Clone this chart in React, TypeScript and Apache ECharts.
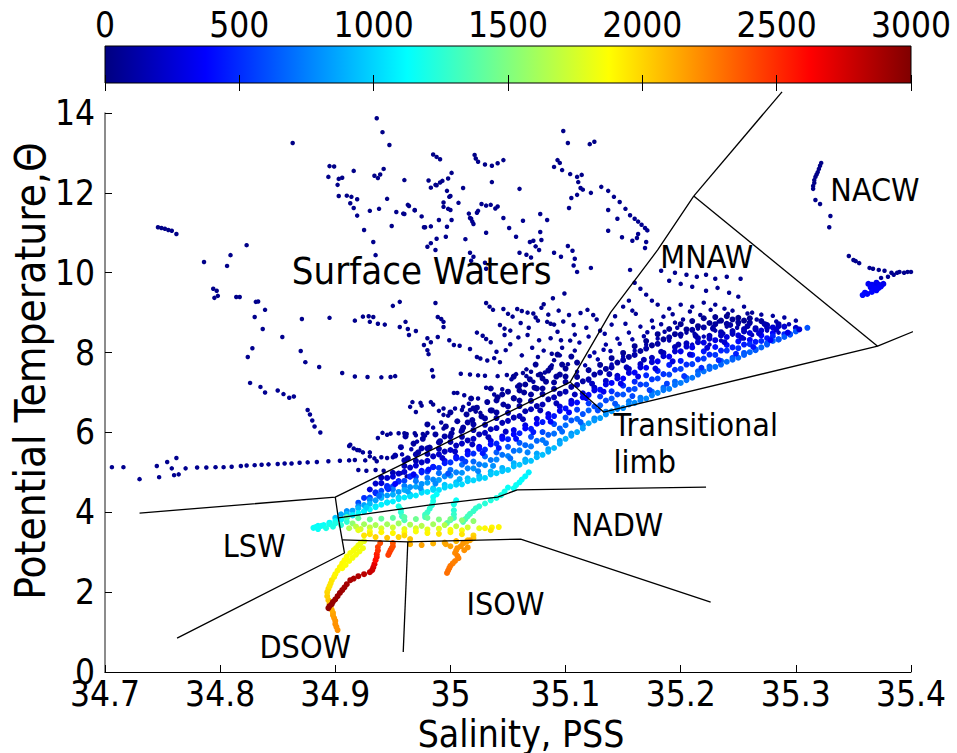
import React, { useEffect, useRef } from "react";
import * as echarts from "echarts";

// Jet colour ramp used for depth (m)
const JET = ["#000080", "#0000ff", "#0080ff", "#00ffff", "#80ff80", "#ffff00", "#ff8000", "#ff0000", "#800000"];
const DEPTH_MIN = 0;
const DEPTH_MAX = 3000;
const DEPTH_STEP = 500;
const SAL_MIN = 34.7;
const SAL_MAX = 35.4;
const SAL_STEP = 0.1;
const TEMP_MIN = 0;
const TEMP_MAX = 14;
const TEMP_STEP = 2;

// Each point: [salinity, potential temperature, depth]
const surfaceHigh = [
  [34.936,13.87,20],[34.941,13.52,25],[34.947,13.2,20],[34.863,13.25,15],[34.895,12.67,20],[34.899,12.66,25],[34.894,12.4,30],[34.903,12.35,20],[34.906,12.38,25],[34.902,12.2,30],[34.916,12.55,20],[34.934,12.43,25],[34.937,12.37,30],[34.939,12.46,20],[34.942,12.6,25],[34.903,11.92,20],[34.91,11.93,25],[34.914,11.9,30],[34.919,11.84,35],[34.913,11.74,30],[34.916,11.62,35],[34.919,11.43,40],[34.93,11.55,25],[34.938,11.6,30],[34.945,11.85,20],[34.925,11.07,30],[34.933,10.77,35],[34.935,10.44,40],[34.949,11.17,25],[34.96,12.32,20],[34.953,11.52,30],[34.959,11.48,35],[34.963,11.7,25],[34.969,11.56,30],[34.975,11.41,35],[34.977,11.14,30],[34.983,11.16,35],
  [34.985,12.96,20],[34.988,12.9,25],[34.991,12.84,30],[35.021,12.95,20],[35.022,12.86,25],[35.024,12.78,30],[35.03,12.71,25],[35.036,12.68,30],[35.041,12.74,25],[35.046,12.82,20],[35.036,12.27,30],[34.981,12.31,25],[34.983,12.13,30],[34.988,12.19,25],[34.991,12.26,30],[34.998,12.36,25],[34.999,11.9,30],[34.994,11.76,30],[34.998,11.6,35],[35.016,11.48,35],[35.018,11.35,40],[35.024,11.55,30],[34.99,11.32,35],[34.997,11.15,40],[35.039,11.61,30],[34.98,10.65,35],[34.988,10.85,35],[35.017,10.5,40],[35.02,10.4,40],[35.018,10.3,45],[35.06,10.5,40],[35.066,10.45,40],[35.07,10.38,45],[35.072,10.8,35],[35.079,10.82,35],[35.03,10.25,45],[35.031,10.1,45],
  [35.098,13.55,20],[35.102,13.25,25],[35.121,13.22,20],[35.125,13.28,20],[35.093,12.82,25],[35.09,12.65,30],[35.095,12.75,25],[35.097,12.57,30],[35.104,12.47,30],[35.11,12.4,30],[35.114,12.45,25],[35.111,12.27,30],[35.113,12.12,35],[35.115,12.08,35],[35.11,11.95,35],[35.105,11.87,35],[35.122,12.0,30],[35.131,12.15,30],[35.137,12.05,30],[35.142,11.9,35],[35.147,11.77,35],[35.152,11.6,35],[35.156,11.44,40],[35.16,11.35,40],[35.163,11.28,40],[35.166,11.2,40],[35.169,11.12,45],[35.171,11.06,45],[35.137,11.57,35],[35.145,11.35,40],[35.137,11.05,40],[35.149,10.89,40],[35.163,10.97,45],[35.162,10.87,45],[35.158,10.8,45],[35.17,10.77,45],[35.169,10.62,50],[35.103,11.62,35],
  [35.001,12.5,25],[34.987,12.2,30],[34.993,12.3,30],[34.997,12.05,30],[35.0,11.92,30],[35.011,12.12,30],[34.994,11.65,35],[35.0,11.57,35],[35.001,11.32,40],[35.007,11.75,35],[35.017,11.37,40],[35.019,11.28,40],[35.02,11.22,40],[35.023,11.5,35],[35.027,11.72,35],[35.031,11.68,35],[35.035,11.7,35],[35.041,11.66,35],[35.046,11.37,40],[35.051,11.12,40],[35.057,10.9,45],[35.063,11.3,40],[35.069,10.77,45],[35.06,12.1,30],[35.078,11.47,40],[35.084,11.32,40],[35.078,11.02,45],[35.09,10.5,45],[35.096,10.4,45],[35.102,10.67,45],[35.106,10.55,45],[35.108,10.35,50],[35.107,10.18,50],[35.11,10.02,50],[35.122,10.12,50],[35.156,10.07,50],[34.996,10.9,40],[35.013,10.84,40],[34.983,10.74,40],[34.987,10.57,45],[35.031,11.0,40],[35.074,10.66,45],[35.077,10.57,45],
  [34.964,11.67,30],[34.969,11.57,30],[34.978,11.14,35],[34.96,11.47,35],
  [34.746,11.14,20],[34.749,11.12,20],[34.752,11.1,20],[34.755,11.07,25],[34.758,11.05,25],[34.762,10.97,25],[34.823,10.69,25],[34.786,10.27,25],[34.809,10.44,30],[34.806,10.17,30]
];

const surfaceMid = [
  [34.794,9.6,30],[34.797,9.55,30],[34.798,9.42,30],[34.795,9.37,30],[34.814,9.39,30],[34.817,9.39,30],[34.831,9.27,35],[34.833,9.28,35],[34.83,8.89,35],[34.839,9.07,35],[34.837,8.59,40],[34.854,8.39,40],[34.871,8.84,35],[34.895,8.87,35],[34.87,8.04,40],[34.874,7.76,45],[34.886,7.64,45],[34.906,7.49,45],[34.917,7.4,45],[34.928,7.39,45],[34.94,7.38,45],[34.948,7.39,50],[34.952,7.41,50],[34.828,8.11,40],[34.824,7.89,45],[34.826,7.24,45],[34.835,7.14,45],[34.839,7.0,50],[34.855,6.96,50],[34.86,6.87,50],[34.864,6.9,50],
  [34.917,8.8,35],[34.924,8.9,35],[34.929,8.91,35],[34.933,8.89,35],[34.93,8.77,40],[34.937,8.72,40],[34.943,8.7,40],[34.95,9.17,35],[34.956,9.27,35],[34.956,8.64,40],[34.963,8.59,40],[34.964,8.44,45],[34.97,8.54,40],[34.961,8.77,40],[34.987,9.24,35],[34.989,8.89,40],[34.992,8.84,40],[34.994,8.77,40],[34.994,8.64,40],[34.98,8.36,45],[34.983,8.26,45],[34.977,8.19,45],[34.98,8.06,50],[34.981,7.96,50],[34.984,7.56,50],[34.985,7.4,55],[34.989,8.39,45],[34.999,8.31,45],[35.003,8.19,50],[35.008,8.17,50],[35.017,8.09,50],[35.023,7.89,55],[35.026,7.85,55],[35.032,7.8,55],[35.038,7.86,55],[35.043,7.76,60],[35.048,8.06,55],[35.031,9.24,35],[35.034,9.15,40],[35.037,9.07,40],[35.046,9.09,40],[35.05,8.97,45],[35.054,8.9,45],[35.058,9.09,40],[35.062,9.04,40],[35.067,9.0,45],[35.072,8.98,45],[35.074,8.88,45],[35.076,8.8,45],[35.043,8.69,50],[35.047,8.6,50],[35.052,8.55,50],[35.061,8.74,50],[35.084,8.77,45],[35.087,8.72,45],[35.09,8.7,45],[35.067,8.44,50],[35.077,8.31,55],[35.087,8.36,55],[35.096,8.31,55],[35.009,7.47,60],[35.017,7.45,60],[35.024,7.43,60],[35.03,7.42,60],[35.041,7.41,60],[35.049,7.44,60],[35.057,7.46,60],[35.063,7.49,60],[35.066,7.58,60],[35.07,7.52,60],[35.076,7.44,65],[35.09,7.81,60],[35.076,7.89,60],[35.107,8.69,50],[35.113,8.99,45],[35.119,9.07,45],[35.124,8.94,45],[35.103,8.94,45],[35.023,8.5,50],[35.028,8.42,50],[35.031,8.34,55],[35.035,8.26,55],
  [35.003,6.99,60],[35.006,6.99,60],[34.965,6.64,60],[34.97,6.51,60],[34.974,6.74,60],[34.983,6.76,60],[34.99,6.54,65],[34.994,6.44,65],[35.011,6.64,70],[35.017,6.56,70],[35.022,6.52,70],[35.026,6.49,75],[34.941,5.99,60],[34.948,5.97,60],[34.955,5.98,65],[34.962,5.96,65],[34.969,5.98,65],[34.976,5.96,70],[34.937,5.86,65],[34.913,5.69,65],[34.919,5.56,70],[34.924,5.5,70],[34.93,5.5,70],
  [34.85,7.05,50],[34.876,6.56,50],[34.878,6.45,55],[34.88,6.3,55],[34.882,6.15,55],[34.887,6.0,60],[34.912,5.66,65],[34.916,5.6,65],[34.921,5.55,65],[34.967,6.76,55],[34.975,6.67,55],[34.985,6.7,60],[34.994,6.6,60],[35.01,6.56,65],[34.994,6.1,70],[35.002,6.08,70],[35.009,6.02,70],[34.945,5.94,65],[34.96,5.98,65],[34.97,5.93,70],[34.98,5.99,70],
  [35.081,9.21,40],[35.089,9.36,40],[35.094,9.05,45],[35.099,9.48,40],[35.085,8.95,45],[35.079,9.12,45],[35.093,8.52,55],[35.098,8.78,50],[35.068,8.62,50],[35.059,8.38,55],[35.052,8.21,60],[35.047,8.44,55],[35.04,8.02,60],[35.062,7.93,60],[35.071,8.12,60],[35.081,8.05,65],[35.088,7.97,65],[35.097,8.12,60],[35.104,8.3,55],[35.108,8.45,55]
];

const surfaceLsw = [
  [34.706,5.13,40],[34.716,5.13,40],[34.73,4.83,45],[34.745,5.16,40],[34.747,4.88,45],[34.754,5.26,40],[34.758,5.1,40],[34.762,5.36,40],[34.76,4.93,45],[34.764,4.95,45],[34.77,5.1,45],[34.78,5.12,45],[34.788,5.12,45],[34.796,5.13,45],[34.803,5.13,45],[34.81,5.14,45],[34.818,5.16,45],[34.823,5.17,50],[34.83,5.18,50],[34.836,5.19,50],[34.842,5.2,50],[34.85,5.21,50],[34.856,5.22,50],[34.862,5.22,50],[34.869,5.24,50],[34.876,5.25,55],[34.884,5.26,55],[34.894,5.28,55],[34.904,5.29,55],[34.912,5.3,55],[34.917,5.31,55],
  [34.92,5.06,60],[34.927,5.04,60],[34.935,5.06,60],[34.942,5.04,60],[34.95,4.98,65],[34.957,4.98,65],[34.962,4.9,65],[34.926,5.3,60],[34.93,5.4,60],[34.934,5.35,60],[34.936,5.28,60],[34.94,5.38,60],[34.945,5.36,60],[34.95,5.38,60]
];

const nacwShallow = [
  [35.322,12.75,20],[35.321,12.68,20],[35.32,12.6,20],[35.319,12.52,25],[35.318,12.46,25],[35.317,12.4,25],[35.316,12.32,25],[35.316,12.25,25],[35.315,12.17,30],[35.315,12.1,30],[35.317,11.82,30],[35.321,11.72,30],[35.33,11.42,30],[35.329,11.14,35],[35.346,10.42,35],[35.35,10.32,35],[35.352,10.29,35],[35.355,10.24,40],[35.364,10.12,40],[35.367,10.1,40],[35.372,10.07,40],[35.377,10.05,40],[35.383,10.0,40],[35.388,10.0,40],[35.39,10.02,40],[35.394,10.0,40],[35.397,10.02,40],[35.4,10.02,40],[35.374,9.87,60],[35.38,9.9,60],[35.385,9.95,50]
];

const nacwDeeper = [
  [35.363,9.72,330],[35.366,9.7,340],[35.368,9.68,350],[35.37,9.75,320],[35.372,9.7,330],[35.374,9.66,350],[35.376,9.72,320],[35.365,9.63,360],[35.368,9.6,370],[35.372,9.62,360],[35.36,9.5,380],[35.358,9.44,400],[35.362,9.47,390],[35.366,9.52,380],[35.37,9.56,370]
];

const mnawCloud = [
  [35.183,10.05,40],[35.195,10.0,40],[35.205,9.95,45],[35.214,9.9,45],[35.222,9.95,45],[35.23,9.85,50],[35.24,9.9,45],[35.252,9.85,50],[35.19,9.8,50],[35.2,9.72,50],[35.21,9.65,55],[35.222,9.55,55],[35.232,9.62,55],[35.242,9.5,55],[35.25,9.4,60],[35.16,9.75,50],[35.165,9.6,55],[35.17,9.45,55],[35.175,9.3,60],[35.155,9.3,55],[35.15,9.15,60],[35.158,9.05,60],[35.18,9.2,60],[35.19,9.1,60],[35.2,9.2,60],[35.21,9.15,65],[35.22,9.25,60],[35.23,9.2,65],[35.238,9.1,65],[35.245,9.05,70],[35.255,9.15,65],[35.262,9.0,70],[35.27,8.95,75],[35.28,8.92,80],[35.29,8.88,85],[35.3,8.8,90],[35.265,8.6,120],[35.275,8.55,140],[35.285,8.5,160],[35.245,8.45,120],[35.255,8.35,150],[35.235,8.3,140],[35.225,8.2,160],[35.215,8.6,80],[35.205,8.5,90],[35.195,8.75,70],[35.185,8.9,65],[35.175,8.8,70],[35.165,8.65,80],[35.155,8.5,90],[35.145,8.35,95],[35.135,8.2,100],[35.125,8.0,110],[35.14,8.7,70],[35.13,8.55,80],[35.12,8.4,90],[35.112,8.25,95],[35.17,8.2,130],[35.18,8.35,120],[35.19,8.3,140],[35.2,8.4,130],[35.16,8.05,150],[35.15,7.9,160],[35.14,7.7,170],[35.13,7.5,180],[35.12,7.3,190],[35.21,8.2,180],[35.22,8.4,150],[35.23,8.55,130],[35.24,8.65,110],[35.25,8.7,100],[35.26,8.72,100],
  [35.118,8.62,70],[35.127,8.83,60],[35.134,8.47,85],[35.143,8.91,60],[35.152,8.72,75],[35.161,8.97,60],[35.168,8.41,110],[35.176,8.63,90],[35.186,8.52,110],[35.193,8.96,60],[35.202,8.83,75],[35.208,9.03,55],[35.217,8.94,65],[35.226,9.07,55],[35.233,8.78,85],[35.241,8.97,60],[35.249,8.62,110],[35.258,8.98,60],[35.266,8.83,90],[35.272,8.73,110],[35.283,8.78,120],[35.294,8.71,150],[35.121,7.91,120],[35.133,8.07,115],[35.147,8.22,110],[35.158,8.33,105],[35.171,8.51,95],[35.183,8.71,80],[35.197,8.62,95],[35.212,8.47,120],[35.228,8.64,110],[35.237,8.48,130],[35.262,8.44,150],[35.11,7.52,130],[35.117,7.68,125],[35.128,7.83,120],[35.139,8.04,110],[35.108,8.05,80],[35.102,7.71,90],[35.095,7.93,70],[35.088,7.68,80],[35.082,7.5,90],[35.072,7.27,95],[35.066,7.41,80],[35.058,7.15,90],[35.053,7.33,75],[35.045,7.08,80],[35.038,6.95,85],[35.031,7.12,70],[35.024,6.85,80],[35.016,6.72,85],[35.012,6.93,70],[35.004,6.6,85],[34.998,6.42,90],[34.992,6.25,95],[34.985,6.12,100],[34.978,5.92,110],[34.971,5.77,115],[34.966,5.58,125],[34.958,5.45,130]
];

const nearBoundary = [
  [34.96,5.3,150],[34.97,5.45,140],[34.98,5.6,130],[34.99,5.75,130],[35.0,5.9,120],[35.01,6.05,120],[35.02,6.2,110],[35.03,6.35,110],[35.04,6.5,100],[35.05,6.65,100],[35.06,6.8,90],[35.07,6.95,90],[35.08,7.1,85],[35.09,7.25,80],[35.1,7.4,80],[34.975,5.6,120],[34.995,5.9,110],[35.015,6.25,100],[35.035,6.55,95],[35.055,6.85,90],[35.075,7.1,85],[35.095,7.45,80],[35.02,6.6,80],[35.04,6.8,80],[35.06,7.05,75],[35.08,7.35,75],[35.1,7.6,70],[35.11,7.75,70],[35.045,6.95,75],[35.065,7.2,70],[35.085,7.55,70],[35.105,7.9,65],
  [34.952,5.42,110],[34.957,5.63,100],[34.963,5.35,120],[34.968,5.72,95],[34.972,5.5,110],[34.976,5.84,90],[34.982,5.62,105],[34.987,5.95,90],[34.991,5.78,100],[34.996,6.15,85],[35.001,5.98,95],[35.006,6.28,85],[35.011,6.12,95],[35.014,6.45,80],[35.019,6.31,90],[35.023,6.62,80],[35.027,6.4,90],[35.032,6.76,75],[35.036,6.55,85],[35.041,6.88,75],[35.046,6.7,85],[35.05,7.02,70],[35.055,6.86,80],[35.06,7.18,70],[35.064,7.0,80],[35.069,7.33,70],[35.073,7.12,80],[35.078,7.45,65],[35.083,7.27,75],[35.087,7.62,65],[35.092,7.4,75],[35.097,7.7,65],[34.961,5.9,80],[34.98,6.2,75],[35.0,6.5,70],[35.018,6.85,65],[35.035,7.1,65],[35.055,7.4,60],[35.074,7.7,60],[35.093,7.95,55]
];

// Station profiles through the main thermocline band, deepest first
const profileA = [
  [34.881,3.61,1150],[34.89,3.68,1140],[34.9,3.78,1130],[34.91,3.86,1120],[34.92,3.98,1110],[34.93,4.07,1100],[34.94,4.19,1090],[34.95,4.27,1080],[34.96,4.37,1070],[34.97,4.42,1060],[34.98,4.51,1050],[34.99,4.56,1040],[35.0,4.65,1030],[35.01,4.7,1020],[35.02,4.8,1010],[35.03,4.86,1000],[35.04,4.98,990],[35.05,5.06,980],[35.06,5.19,960],[35.07,5.29,950],[35.08,5.44,940],[35.09,5.61,920],[35.1,5.84,900],[35.11,6.01,880],[35.12,6.23,860],[35.13,6.36,840],[35.14,6.53,820],[35.15,6.61,800],[35.16,6.74,790],[35.17,6.85,780],[35.18,6.99,760],[35.19,7.09,750],[35.2,7.24,740],[35.21,7.37,720],[35.22,7.53,710],[35.23,7.64,700],[35.24,7.77,690],[35.25,7.87,680],[35.26,8.01,670],[35.27,8.13,660],[35.28,8.29,650],[35.29,8.39,640],[35.3,8.53,630],[35.31,8.62,620]
];
const profileAB = [
  [34.885,3.66,1120],[34.895,3.74,1110],[34.905,3.83,1100],[34.915,3.92,1090],[34.925,4.03,1080],[34.935,4.13,1070],[34.945,4.24,1060],[34.955,4.33,1040],[34.965,4.4,1030],[34.975,4.49,1020],[34.985,4.56,1010],[34.995,4.62,1000],[35.005,4.69,990],[35.015,4.78,980],[35.025,4.84,970],[35.035,4.95,960],[35.045,5.03,950],[35.055,5.15,930],[35.065,5.26,920],[35.075,5.38,910],[35.085,5.52,890],[35.095,5.72,870],[35.105,5.92,850],[35.115,6.1,840],[35.125,6.3,820],[35.135,6.45,800],[35.145,6.59,780],[35.155,6.7,770],[35.165,6.8,750],[35.175,6.93,740],[35.185,7.06,720],[35.195,7.19,710],[35.205,7.31,700],[35.215,7.45,690],[35.225,7.59,680],[35.235,7.7,670],[35.245,7.82,660],[35.255,7.94,650],[35.265,8.06,640],[35.275,8.2,630],[35.285,8.33,620],[35.295,8.46,610]
];
const profileB = [
  [34.895,3.73,1080],[34.905,3.81,1060],[34.915,3.93,1050],[34.925,4.02,1040],[34.935,4.15,1030],[34.945,4.25,1020],[34.955,4.37,1000],[34.965,4.44,990],[34.975,4.54,980],[34.985,4.6,970],[34.995,4.69,960],[35.005,4.75,950],[35.015,4.85,940],[35.025,4.91,930],[35.035,5.02,920],[35.045,5.11,900],[35.055,5.23,890],[35.065,5.32,870],[35.075,5.47,860],[35.085,5.58,850],[35.095,5.79,830],[35.105,5.97,810],[35.115,6.18,800],[35.125,6.35,780],[35.135,6.52,760],[35.145,6.65,750],[35.155,6.78,730],[35.165,6.87,720],[35.175,7.02,700],[35.185,7.12,690],[35.195,7.27,680],[35.205,7.37,660],[35.215,7.53,650],[35.225,7.65,640],[35.235,7.79,630],[35.245,7.87,620],[35.255,7.99,610],[35.265,8.08,600],[35.275,8.23,590],[35.285,8.33,580],[35.295,8.45,570]
];
const profileC = [
  [34.9,3.86,950],[34.91,3.96,940],[34.92,4.1,930],[34.93,4.21,920],[34.94,4.36,900],[34.95,4.44,890],[34.96,4.56,880],[34.97,4.64,860],[34.98,4.74,850],[34.99,4.81,840],[35.0,4.92,820],[35.01,4.99,810],[35.02,5.1,800],[35.03,5.18,790],[35.04,5.32,770],[35.05,5.41,760],[35.06,5.55,750],[35.07,5.65,730],[35.08,5.81,720],[35.09,5.97,700],[35.1,6.18,690],[35.11,6.34,670],[35.12,6.55,660],[35.13,6.68,640],[35.14,6.85,630],[35.15,6.95,620],[35.16,7.09,600],[35.17,7.2,590],[35.18,7.35,580],[35.19,7.45,570],[35.2,7.59,560],[35.21,7.71,550],[35.22,7.85,540],[35.23,7.94,530],[35.24,8.05,520],[35.25,8.11,510],[35.26,8.21,500],[35.27,8.29,490],[35.28,8.41,480],[35.29,8.46,470]
];
const profileCD = [
  [34.905,3.95,880],[34.915,4.04,870],[34.925,4.18,860],[34.935,4.3,850],[34.945,4.42,840],[34.955,4.51,820],[34.965,4.63,810],[34.975,4.71,800],[34.985,4.82,780],[34.995,4.9,770],[35.005,5.0,760],[35.015,5.1,750],[35.025,5.2,730],[35.035,5.31,720],[35.045,5.44,710],[35.055,5.54,690],[35.065,5.68,680],[35.075,5.79,670],[35.085,5.94,650],[35.095,6.1,640],[35.105,6.3,620],[35.115,6.46,610],[35.125,6.65,600],[35.135,6.8,580],[35.145,6.95,570],[35.155,7.07,560],[35.165,7.2,540],[35.175,7.33,530],[35.185,7.46,520],[35.195,7.57,510],[35.205,7.7,500],[35.215,7.83,490],[35.225,7.95,480],[35.235,8.05,470],[35.245,8.13,460],[35.255,8.2,450],[35.265,8.27,440],[35.275,8.36,430]
];
const profileD = [
  [34.91,4.03,800],[34.92,4.15,790],[34.93,4.31,780],[34.94,4.43,770],[34.95,4.57,750],[34.96,4.66,740],[34.97,4.78,730],[34.98,4.86,720],[34.99,4.98,700],[35.0,5.06,690],[35.01,5.19,680],[35.02,5.27,670],[35.03,5.4,650],[35.04,5.5,640],[35.05,5.64,630],[35.06,5.74,620],[35.07,5.89,600],[35.08,6.01,590],[35.09,6.21,580],[35.1,6.37,560],[35.11,6.57,550],[35.12,6.73,540],[35.13,6.9,530],[35.14,7.03,510],[35.15,7.17,500],[35.16,7.27,490],[35.17,7.43,480],[35.18,7.54,470],[35.19,7.69,460],[35.2,7.79,450],[35.21,7.94,440],[35.22,8.03,430],[35.23,8.14,420],[35.24,8.19,410],[35.25,8.28,400],[35.26,8.32,390],[35.27,8.43,380],[35.28,8.49,370]
];
const profileE = [
  [34.92,4.24,600],[34.93,4.37,590],[34.94,4.54,580],[34.95,4.65,570],[34.96,4.79,560],[34.97,4.89,550],[34.98,5.02,540],[34.99,5.11,530],[35.0,5.25,520],[35.01,5.34,510],[35.02,5.47,500],[35.03,5.57,490],[35.04,5.72,480],[35.05,5.83,470],[35.06,5.98,460],[35.07,6.09,450],[35.08,6.26,440],[35.09,6.41,430],[35.1,6.6,420],[35.11,6.75,410],[35.12,6.94,400],[35.13,7.07,390],[35.14,7.24,380],[35.15,7.35,370],[35.16,7.5,360],[35.17,7.62,350],[35.18,7.78,340],[35.19,7.9,330],[35.2,8.03,320],[35.21,8.13,310],[35.22,8.25,300],[35.23,8.31,290],[35.24,8.39,280],[35.25,8.43,270],[35.26,8.49,260],[35.27,8.55,250],[35.28,8.63,240],[35.29,8.65,230],[35.3,8.62,220]
];
const profileEF = [
  [34.925,4.36,510],[34.935,4.5,500],[34.945,4.66,490],[34.955,4.77,480],[34.965,4.9,470],[34.975,5.0,460],[34.985,5.13,450],[34.995,5.23,440],[35.005,5.35,430],[35.015,5.45,420],[35.025,5.59,410],[35.035,5.7,400],[35.045,5.84,390],[35.055,5.95,380],[35.065,6.1,370],[35.075,6.22,360],[35.085,6.38,350],[35.095,6.54,340],[35.105,6.72,330],[35.115,6.88,320],[35.125,7.05,300],[35.135,7.2,290],[35.145,7.35,280],[35.155,7.49,270],[35.165,7.63,260],[35.175,7.76,250],[35.185,7.91,240],[35.195,8.03,230],[35.205,8.15,220],[35.215,8.26,210],[35.225,8.35,200],[35.235,8.43,190],[35.245,8.48,185],[35.255,8.53,180],[35.265,8.58,175],[35.275,8.62,170],[35.285,8.66,165]
];
const profileF = [
  [34.935,4.48,420],[34.945,4.62,410],[34.955,4.78,400],[34.965,4.89,390],[34.975,5.04,380],[34.985,5.14,370],[34.995,5.29,360],[35.005,5.39,350],[35.015,5.53,340],[35.025,5.64,330],[35.035,5.79,320],[35.045,5.9,310],[35.055,6.06,300],[35.065,6.18,290],[35.075,6.34,280],[35.085,6.46,270],[35.095,6.65,260],[35.105,6.79,250],[35.115,6.98,240],[35.125,7.12,230],[35.135,7.29,220],[35.145,7.42,210],[35.155,7.59,200],[35.165,7.71,190],[35.175,7.87,180],[35.185,7.99,175],[35.195,8.14,170],[35.205,8.23,165],[35.215,8.36,160],[35.225,8.42,155],[35.235,8.51,150],[35.245,8.54,145],[35.255,8.59,140],[35.265,8.61,135],[35.275,8.69,130],[35.285,8.71,125]
];
const profileG = [
  [34.93,4.57,260],[34.94,4.73,255],[34.95,4.89,250],[34.96,5.01,240],[34.97,5.17,235],[34.98,5.29,230],[34.99,5.45,220],[35.0,5.56,215],[35.01,5.72,210],[35.02,5.84,200],[35.03,5.99,195],[35.04,6.11,190],[35.05,6.29,180],[35.06,6.41,175],[35.07,6.58,170],[35.08,6.7,160],[35.09,6.88,155],[35.1,7.02,150],[35.11,7.19,145],[35.12,7.33,140],[35.13,7.5,135],[35.14,7.63,130],[35.15,7.81,125],[35.16,7.94,120],[35.17,8.1,115],[35.18,8.22,110],[35.19,8.38,105],[35.2,8.45,100],[35.21,8.57,100],[35.22,8.63,95],[35.23,8.71,90],[35.24,8.72,90],[35.25,8.76,85],[35.26,8.75,80],[35.27,8.79,80]
];
const profileGH = [
  [34.935,4.72,220],[34.945,4.86,210],[34.955,4.97,205],[34.965,5.12,200],[34.975,5.25,195],[34.985,5.4,190],[34.995,5.52,180],[35.005,5.67,175],[35.015,5.8,170],[35.025,5.95,160],[35.035,6.08,155],[35.045,6.24,150],[35.055,6.37,140],[35.065,6.53,135],[35.075,6.66,130],[35.085,6.83,120],[35.095,6.97,115],[35.105,7.14,110],[35.115,7.28,105],[35.125,7.45,100],[35.135,7.59,95],[35.145,7.75,90],[35.155,7.89,85],[35.165,8.04,80],[35.175,8.18,75],[35.185,8.33,70],[35.195,8.46,70],[35.205,8.58,65],[35.215,8.66,60],[35.225,8.74,60],[35.235,8.8,55],[35.245,8.83,55],[35.255,8.8,50]
];
const profileH = [
  [34.94,4.87,160],[34.95,4.99,150],[34.96,5.16,150],[34.97,5.29,140],[34.98,5.46,140],[34.99,5.59,130],[35.0,5.76,130],[35.01,5.89,120],[35.02,6.06,120],[35.03,6.19,110],[35.04,6.36,110],[35.05,6.49,100],[35.06,6.66,100],[35.07,6.79,90],[35.08,6.96,90],[35.09,7.09,80],[35.1,7.26,80],[35.11,7.39,75],[35.12,7.56,75],[35.13,7.69,70],[35.14,7.86,70],[35.15,7.99,65],[35.16,8.16,65],[35.17,8.29,60],[35.18,8.46,60],[35.19,8.59,55],[35.2,8.71,55],[35.21,8.79,50],[35.22,8.86,50],[35.23,8.89,50],[35.24,8.91,45],[35.25,8.87,45],[35.26,8.86,40]
];

// Scattered casts filling the band between the profiles above
const bandScatter = [
  [34.927,4.12,1000],[34.938,4.41,700],[34.946,4.58,520],[34.952,4.71,380],[34.963,4.52,850],[34.968,4.95,330],[34.974,4.61,800],[34.981,5.07,420],[34.987,4.72,780],[34.993,5.36,230],[34.998,4.97,610],[35.004,5.52,200],[35.008,4.83,900],[35.013,5.27,560],[35.019,5.7,190],[35.024,5.03,760],[35.028,5.48,430],[35.033,5.88,170],[35.037,5.16,800],[35.042,5.61,420],[35.048,6.02,210],[35.052,5.35,700],[35.057,5.84,400],[35.063,6.33,160],[35.067,5.5,760],[35.072,6.01,440],[35.078,6.55,150],[35.083,5.73,720],[35.087,6.27,380],[35.092,6.73,160],[35.097,6.02,680],[35.103,6.5,380],[35.108,6.95,170],[35.113,6.26,650],[35.118,6.86,330],[35.123,7.22,190],[35.128,6.55,600],[35.133,7.02,330],[35.138,7.46,150],[35.143,6.72,620],[35.148,7.22,320],[35.153,7.63,160],[35.158,6.91,580],[35.163,7.4,300],[35.168,7.82,150],[35.173,7.06,560],[35.178,7.6,290],[35.183,8.02,140],[35.188,7.22,560],[35.193,7.78,280],[35.198,8.2,130],[35.203,7.41,520],[35.208,7.95,260],[35.213,8.42,120],[35.218,7.62,500],[35.223,8.12,250],[35.228,8.6,110],[35.233,7.81,480],[35.238,8.26,240],[35.243,8.69,110],[35.248,7.97,460],[35.253,8.37,240],[35.258,8.66,120],[35.263,8.14,420],[35.268,8.48,230],[35.273,8.71,140],[35.278,8.31,380],[35.283,8.58,220],[35.293,8.5,300],[35.303,8.58,250]
];

const intermediateDips = [
  [35.05,4.62,1150],[35.047,4.52,1180],[35.044,4.43,1200],[35.04,4.36,1210],[35.035,4.3,1220],[35.03,4.22,1240],[35.025,4.15,1250],[35.022,4.1,1270],[35.02,4.03,1280],[35.017,3.96,1300],[35.015,3.9,1320],[35.013,3.83,1340],[35.011,3.76,1360],
  [34.988,4.45,1130],[34.985,4.38,1150],[34.985,4.28,1190],[34.984,4.18,1220],[34.982,4.09,1250],[34.98,4.0,1280],[34.978,3.94,1300],[34.978,3.88,1320],
  [34.955,4.15,1200],[34.957,4.07,1230],[34.957,4.0,1250],[34.958,3.9,1300],[34.96,3.8,1350],
  [35.005,4.3,1150],[35.003,4.2,1200],[35.003,4.05,1240],[35.003,3.95,1280],[35.003,3.86,1300],[35.0,3.8,1350],[34.997,3.73,1400],
  [35.068,5.0,1080],[35.065,4.9,1100],[35.062,4.82,1120],[35.06,4.75,1130],[35.057,4.68,1150],[35.055,4.6,1160],
  [34.885,3.58,1150],[34.883,3.63,1150],[34.888,3.66,1150],[34.892,3.6,1200],[34.895,3.7,1180],[34.898,3.64,1200],[34.9,3.72,1200],[34.905,3.68,1250],[34.91,3.76,1250]
];

const nadwDeep = [
  [34.91,3.88,1350],[34.92,3.85,1400],[34.93,3.82,1450],[34.94,3.84,1420],[34.95,3.86,1400],[34.96,3.88,1380],[34.97,3.83,1450],[34.98,3.86,1420],[34.99,3.82,1500],[35.0,3.83,1480],[35.01,3.8,1520],[35.02,3.78,1550],
  [34.915,3.72,1550],[34.925,3.7,1600],[34.935,3.68,1620],[34.945,3.7,1600],[34.955,3.72,1580],[34.965,3.69,1620],[34.975,3.66,1650],[34.985,3.7,1600],[34.995,3.68,1650],[35.005,3.65,1700],[35.015,3.62,1750],[35.025,3.6,1800],
  [34.912,3.6,1650],[34.918,3.64,1680],[34.922,3.58,1720],[34.93,3.62,1700],[34.94,3.6,1750],[34.95,3.62,1720],[34.96,3.58,1780],[34.97,3.6,1760],[34.98,3.57,1800],[34.99,3.59,1780],[35.0,3.56,1850],[35.01,3.55,1850],
  [34.92,3.55,1800],[34.93,3.52,1850],[34.94,3.5,1900],[34.95,3.48,1900],[34.96,3.5,1880],[34.97,3.52,1850],[34.98,3.48,1900],[34.99,3.46,1950],[35.0,3.5,1900],[35.01,3.45,1950],[35.02,3.42,2000],[35.03,3.6,1900],[35.036,3.62,1900],[35.042,3.63,1900],[35.035,3.55,1950],
  [34.925,3.42,1950],[34.935,3.38,2000],[34.945,3.36,2050],[34.955,3.38,2000],[34.965,3.33,2050],[34.93,3.45,1950],[34.96,3.42,1980],
  [34.965,3.2,2100],[34.975,3.18,2150],[34.985,3.22,2100],[34.995,3.24,2100],[35.005,3.28,2080],[35.015,3.3,2050],[35.02,3.35,2050]
];

const isowProfile = [
  [35.017,3.3,2150],[35.014,3.26,2160],[35.011,3.22,2180],[35.009,3.15,2190],[35.006,3.1,2200],[35.005,3.04,2210],[35.004,2.98,2220],[35.006,2.91,2240],[35.007,2.85,2250],[35.004,2.78,2250],[35.002,2.72,2250],[35.0,2.66,2270],[34.999,2.6,2280],[34.998,2.54,2290],[34.997,2.48,2300],[35.012,3.05,2200],[35.015,3.12,2190],[35.0,3.15,2150],[34.996,3.2,2140]
];

const dsowShallow = [
  [34.902,1.05,2200],[34.901,1.13,2200],[34.9,1.2,2200],[34.9,1.28,2190],[34.899,1.35,2180],[34.898,1.42,2160],[34.898,1.48,2150],[34.897,1.55,2120],[34.896,1.62,2100],[34.895,1.7,2080],[34.894,1.8,2050],[34.893,1.9,2020],[34.893,2.0,2000],[34.894,2.08,1980],[34.895,2.15,1950],[34.896,2.22,1950],[34.897,2.3,1950],[34.899,2.38,1920],[34.9,2.45,1900],[34.902,2.54,1900],[34.904,2.63,1900],[34.906,2.72,1890],[34.908,2.8,1880],[34.91,2.89,1870],[34.913,2.98,1850],[34.916,3.05,1850],[34.918,3.1,1850],[34.92,3.17,1840],[34.922,3.23,1820],[34.925,3.28,1800],
  [34.906,2.6,1880],[34.909,2.68,1870],[34.912,2.78,1860],[34.915,2.86,1850],[34.918,2.94,1850],[34.921,3.02,1840],[34.924,3.1,1830]
];

const dsowDeep = [
  [34.894,1.6,2950],[34.895,1.65,2950],[34.897,1.7,2940],[34.898,1.76,2940],[34.9,1.82,2930],[34.902,1.9,2925],[34.904,1.98,2920],[34.906,2.05,2910],[34.908,2.12,2900],[34.91,2.2,2890],[34.913,2.3,2880],[34.916,2.34,2870],[34.92,2.4,2860],[34.925,2.45,2830],[34.93,2.5,2800],[34.932,2.55,2780],[34.933,2.62,2750],[34.934,2.7,2700],[34.935,2.8,2600],[34.936,2.88,2580],[34.936,2.95,2550],[34.937,3.04,2500],[34.937,3.13,2450],[34.939,3.23,2400],
  [34.946,2.93,2450],[34.947,2.99,2450],[34.948,3.05,2450],[34.949,3.1,2420],[34.95,3.15,2400],[34.95,3.23,2380]
];

// Water-mass boundaries, [salinity, temperature]
const boundaryNacwWest = [[35.288,14.53],[35.2113,11.92]];
const boundaryMnawWest = [[35.2113,11.92],[35.18,10.57],[35.139,9.0],[35.104,7.26]];
const boundarySurfaceLsw = [[35.104,7.26],[34.9,4.38],[34.73,3.98]];
const boundaryTransitional = [[35.104,7.26],[35.133,6.51],[35.371,8.16],[35.441,8.99]];
const boundaryMnawNacw = [[35.2113,11.92],[35.371,8.16]];
const boundaryLswEast = [[34.9,4.38],[34.9026,3.86],[34.908,2.98],[34.7626,0.85]];
const boundaryNadwTop = [[34.9026,3.86],[34.981,4.18],[35.041,4.38],[35.058,4.56],[35.222,4.63]];
const boundaryNadwBottom = [[34.906,3.31],[34.963,3.26],[35.061,3.33],[35.226,1.75]];
const boundaryIsowDsow = [[34.963,3.26],[34.959,0.5]];

// Water-mass names, anchored in [salinity, temperature]
const regionLabels = [
  { name: "Surface Waters", at: [34.975, 10.04], size: 38, align: "center" },
  { name: "MNAW", at: [35.2226, 10.39], size: 32, align: "center" },
  { name: "NACW", at: [35.3687, 12.07], size: 32, align: "center" },
  { name: "Transitional\nlimb", at: [35.1417, 5.72], size: 32, align: "left" },
  { name: "NADW", at: [35.145, 3.68], size: 32, align: "center" },
  { name: "LSW", at: [34.8296, 3.16], size: 32, align: "center" },
  { name: "ISOW", at: [35.0478, 1.7], size: 32, align: "center" },
  { name: "DSOW", at: [34.8739, 0.63], size: 32, align: "center" },
];

const FONT = '"DejaVu Sans Condensed", "DejaVu Sans", sans-serif';

export default function App() {
  const ref = useRef<HTMLDivElement>(null);

  useEffect(() => {
    if (!ref.current) return;
    const chart = echarts.init(ref.current, undefined, { renderer: "svg" });

    const gradient = new echarts.graphic.LinearGradient(
      0, 0, 1, 0,
      JET.map((c, i) => ({ offset: i / (JET.length - 1), color: c }))
    );

    const surfacePoints = [...surfaceHigh, ...surfaceMid, ...surfaceLsw, ...nacwShallow, ...mnawCloud];
    const bandPoints = [
      ...nearBoundary, ...nacwDeeper,
      ...profileH, ...profileGH, ...profileG, ...profileF, ...profileEF, ...profileE,
      ...profileD, ...profileCD, ...profileC, ...profileB, ...profileAB, ...profileA,
      ...bandScatter, ...intermediateDips, ...nadwDeep,
    ];
    const deepPoints = [...isowProfile, ...dsowShallow, ...dsowDeep];

    const boundaries = [
      boundaryNacwWest, boundaryMnawWest, boundarySurfaceLsw, boundaryTransitional,
      boundaryMnawNacw, boundaryLswEast, boundaryNadwTop, boundaryNadwBottom, boundaryIsowDsow,
    ];

    const scatterBase = {
      type: "scatter",
      xAxisIndex: 0,
      yAxisIndex: 0,
      symbol: "circle",
      silent: true,
      z: 2,
      itemStyle: { opacity: 1 },
    };

    const tickFont = { fontSize: 35, color: "#000", fontFamily: FONT };

    chart.setOption({
      animation: false,
      backgroundColor: "#fff",
      grid: [
        { left: 105, top: 113, width: 806, height: 559 },
        {
          left: 105, top: 46, width: 806, height: 37, show: true,
          backgroundColor: gradient, borderColor: "#000", borderWidth: 1,
        },
      ],
      xAxis: [
        {
          gridIndex: 0, type: "value", min: SAL_MIN, max: SAL_MAX, interval: SAL_STEP,
          axisLine: { show: true, onZero: false, lineStyle: { color: "#000", width: 1 } },
          axisTick: { show: true, inside: true, length: 7, lineStyle: { color: "#000" } },
          axisLabel: {
            ...tickFont, margin: 7, lineHeight: 30,
            formatter: (v: number) => String(Math.round(v * 10) / 10),
          },
          splitLine: { show: false },
        },
        {
          gridIndex: 1, type: "value", min: DEPTH_MIN, max: DEPTH_MAX, interval: DEPTH_STEP, position: "top",
          axisLine: { show: false },
          axisTick: { show: true, inside: true, length: 8, lineStyle: { color: "#000" } },
          axisLabel: { ...tickFont, margin: 4, formatter: (v: number) => String(v) },
          splitLine: { show: false },
        },
        {
          gridIndex: 1, type: "value", min: DEPTH_MIN, max: DEPTH_MAX, interval: DEPTH_STEP, position: "bottom",
          axisLine: { show: false },
          axisTick: { show: true, inside: true, length: 8, lineStyle: { color: "#000" } },
          axisLabel: { show: false },
          splitLine: { show: false },
        },
      ],
      yAxis: [
        {
          gridIndex: 0, type: "value", min: TEMP_MIN, max: TEMP_MAX, interval: TEMP_STEP,
          axisLine: { show: true, onZero: false, lineStyle: { color: "#666", width: 1.5 } },
          axisTick: { show: true, inside: true, length: 7, lineStyle: { color: "#000" } },
          axisLabel: { ...tickFont, margin: 10, lineHeight: 28 },
          splitLine: { show: false },
        },
        { gridIndex: 1, type: "value", min: 0, max: 1, show: false },
      ],
      visualMap: {
        type: "continuous",
        show: false,
        min: DEPTH_MIN,
        max: DEPTH_MAX,
        dimension: 2,
        seriesIndex: [0, 1, 2],
        inRange: { color: JET },
      },
      series: [
        { ...scatterBase, name: "surface", symbolSize: 4.5, data: surfacePoints },
        { ...scatterBase, name: "band", symbolSize: 6, data: bandPoints },
        { ...scatterBase, name: "deep", symbolSize: 6, data: deepPoints },
        ...boundaries.map((pts) => ({
          type: "line",
          xAxisIndex: 0,
          yAxisIndex: 0,
          data: pts,
          symbol: "none",
          showSymbol: false,
          clip: false,
          silent: true,
          z: 3,
          lineStyle: { color: "#000", width: 1.3 },
        })),
      ],
    });

    // Axis titles and water-mass names, placed through the chart's own scales
    const names = regionLabels.map((r) => {
      const [x, y] = chart.convertToPixel({ gridIndex: 0 }, r.at) as number[];
      return {
        type: "text",
        x, y, z: 10, silent: true,
        style: {
          text: r.name, fontSize: r.size, fontFamily: FONT, fill: "#000",
          align: r.align, verticalAlign: "middle", lineHeight: 37,
        },
      };
    });

    chart.setOption({
      graphic: [
        {
          type: "text",
          x: 30, y: 371, rotation: Math.PI / 2, silent: true,
          style: {
            text: "Potential Temperature,Θ", fontSize: 42, fontFamily: FONT, fill: "#000",
            align: "center", verticalAlign: "middle",
          },
        },
        {
          type: "text",
          x: 521, y: 734, silent: true,
          style: {
            text: "Salinity, PSS", fontSize: 37, fontFamily: FONT, fill: "#000",
            align: "center", verticalAlign: "middle", lineHeight: 36,
          },
        },
        ...names,
      ],
    });

    return () => chart.dispose();
  }, []);

  return (
    <div
      ref={ref}
      style={{ position: "fixed", left: 0, top: 0, width: 957, height: 753, background: "#fff" }}
    />
  );
}
